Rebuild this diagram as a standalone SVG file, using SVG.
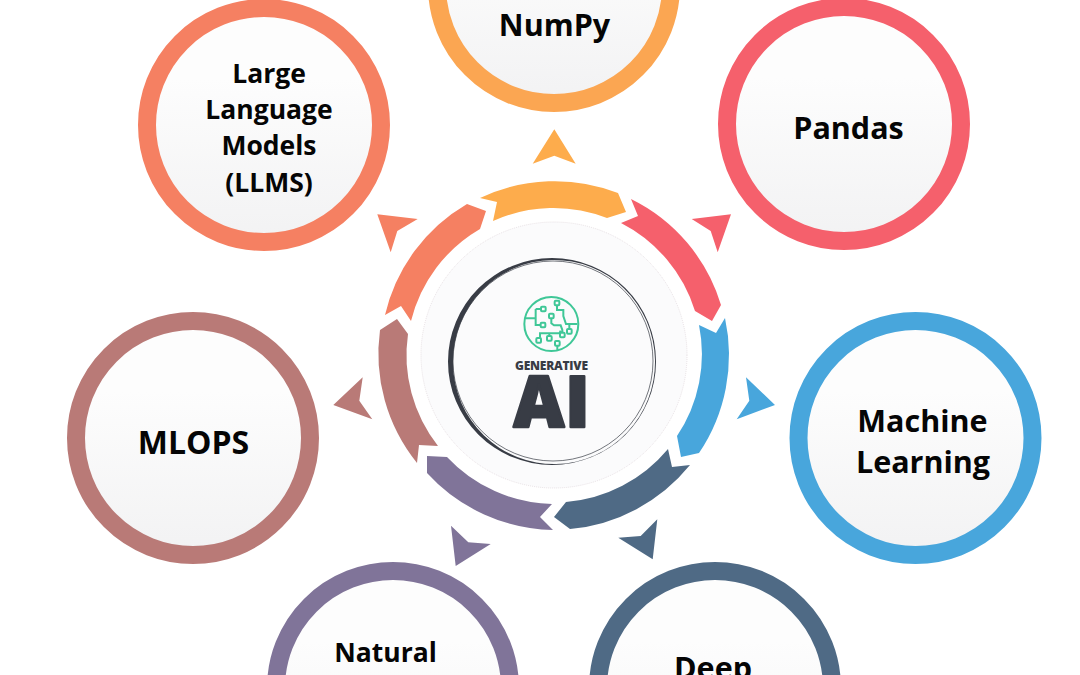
<svg xmlns="http://www.w3.org/2000/svg" width="1080" height="675" viewBox="0 0 1080 675">
<style>
.n{stroke-width:18;fill:url(#g)}
.l{font-family:"Open Sans","Noto Sans","Liberation Sans",sans-serif;font-weight:700;font-size:26.500px;fill:#050505;text-anchor:middle}
.b{font-size:30.500px}
.y{fill:#fdac4c}.r{fill:#f5606c}.c{fill:#f58062}.m{fill:#b97a77}.u{fill:#48a6dc}.d{fill:#4f6a85}.p{fill:#807499}
.t{fill:none;stroke:#3fc797;stroke-width:6}
</style>
<defs>
<linearGradient id="g" x1="0" y1="0" x2="0" y2="1"><stop offset="0.3" stop-color="#fdfdfd"/><stop offset="1" stop-color="#f2f2f3"/></linearGradient>
</defs>
<rect width="1080" height="675" fill="#fff"/>
<g id="connectors">
<path class="y" d="M480 198A175 175 0 0 1 618 193L626 212L607 218A147 147 0 0 0 493 221L497 202Z"/>
<path class="r" d="M631 199A174 174 0 0 1 721 305L712 321L695 311A148 148 0 0 0 621 223L638 216Z"/>
<path class="u" d="M725 318A175 175 0 0 1 699 453L681 457L677 436A147 147 0 0 0 699 325L716 333Z"/>
<path class="d" d="M668 449L672 467L690 465A175 175 0 0 1 570 529L554 517L566 502A148 148 0 0 0 668 449Z"/>
<path class="p" d="M427 456L447 457A148 148 0 0 0 552 504L540 517L553 530A175 175 0 0 1 427 473Z"/>
<path class="m" d="M397 319L408 334A147 147 0 0 0 438 446L419 445L417 463A174 174 0 0 1 380 330Z"/>
<path class="c" d="M467 204L486 211L480 229A147 147 0 0 0 411 321L401 306L385 315A174 174 0 0 1 467 204Z"/>
<polygon class="y" points="554.3,129.3 575.7,163.7 554.3,155.7 532.7,163.7"/>
<polygon class="r" points="731,214.3 717.7,252.3 710.7,231 691.7,219"/>
<polygon class="c" points="377.3,214.3 417.7,219 397.3,231 390.7,252.3"/>
<polygon class="m" points="333.3,405 362.7,377.3 359.3,400.7 372.3,419.3"/>
<polygon class="u" points="775,405 746,377.3 749.3,400.7 736.7,419.3"/>
<polygon class="p" points="451,525.7 468.3,542.3 490.7,544 455.7,566"/>
<polygon class="d" points="657.3,519.3 652.7,559.3 618.3,537.7 640.7,536"/>
</g>
<g id="node-numpy"><circle class="n" cx="554" cy="-14" r="117" stroke="#fba652"/><text class="l b" x="554.500" y="35.500">NumPy</text></g>
<g id="node-pandas"><circle class="n" cx="844" cy="124" r="117" stroke="#f5606c"/><text class="l b" x="848.500" y="139">Pandas</text></g>
<g id="node-llms"><circle class="n" cx="264" cy="125" r="117" stroke="#f58062"/>
<text class="l" x="269" y="82.500">Large</text><text class="l" x="269" y="118.500">Language</text><text class="l" x="269" y="154.500">Models</text><text class="l" x="269" y="191.500">(LLMS)</text></g>
<g id="node-ml"><circle class="n" cx="915.500" cy="438" r="117" stroke="#48a6dc"/><text class="l b" x="922.500" y="431.500">Machine</text><text class="l b" x="923" y="472.500">Learning</text></g>
<g id="node-mlops"><circle class="n" cx="193" cy="438" r="117" stroke="#b97a77"/><text class="l" style="font-size:32px" x="193.500" y="454">MLOPS</text></g>
<g id="node-nlp"><circle class="n" cx="393" cy="688" r="117" stroke="#807499"/><text class="l" x="385.500" y="662">Natural</text></g>
<g id="node-deep"><circle class="n" cx="715" cy="688" r="117" stroke="#4f6a85"/><text class="l b" x="713" y="679">Deep</text></g>
<g id="node-center">
<circle cx="554" cy="355" r="133" fill="#fbfbfc" stroke="#d9cfd4" stroke-width="0.6" stroke-dasharray="1 1"/>
<path fill="#383c45" fill-rule="evenodd" d="M448 361.500A104 103.500 0 1 1 656 361.500A104 103.500 0 1 1 448 361.500ZM453 364A101 102 0 1 0 655 360A101 102 0 1 0 453 364Z"/>
<circle cx="553" cy="361" r="100" fill="none" stroke="#383c45" stroke-width="0.7"/>
<g transform="translate(370 170) scale(.33333)">
<circle class="t" cx="544" cy="462" r="81"/>
<path class="t" d="M465 445H497M497 417V465H512M497 417H513M561 406V420H580V438L588 462H622M598 462V477M544 446V460L552 466H572L577 480V488M510 503V490H568L572 482M538 488V498M562 528V542"/>
<g class="t" stroke-linejoin="round">
<rect x="513" y="410" width="14" height="14" rx="3"/><rect x="554" y="392" width="14" height="14" rx="3"/><rect x="537" y="431" width="14" height="14" rx="3"/><rect x="512" y="458" width="14" height="14" rx="3"/><rect x="591" y="477" width="14" height="14" rx="3"/><rect x="570" y="488" width="14" height="14" rx="3"/><rect x="531" y="498" width="14" height="14" rx="3"/><rect x="499" y="504" width="14" height="14" rx="3"/><rect x="555" y="513" width="14" height="14" rx="3"/>
</g>
</g>
<text x="551.500" y="370" text-anchor="middle" textLength="73" font-family="'Open Sans','Noto Sans',sans-serif" font-weight="800" font-size="12" fill="#383c45">GENERATIVE</text>
<text x="552" y="427" text-anchor="middle" font-family="'Open Sans','Noto Sans',sans-serif" font-weight="800" font-size="70" letter-spacing="1" fill="#383c45" stroke="#383c45" stroke-width="2.500" stroke-linejoin="round">AI</text>
</g>
</svg>
